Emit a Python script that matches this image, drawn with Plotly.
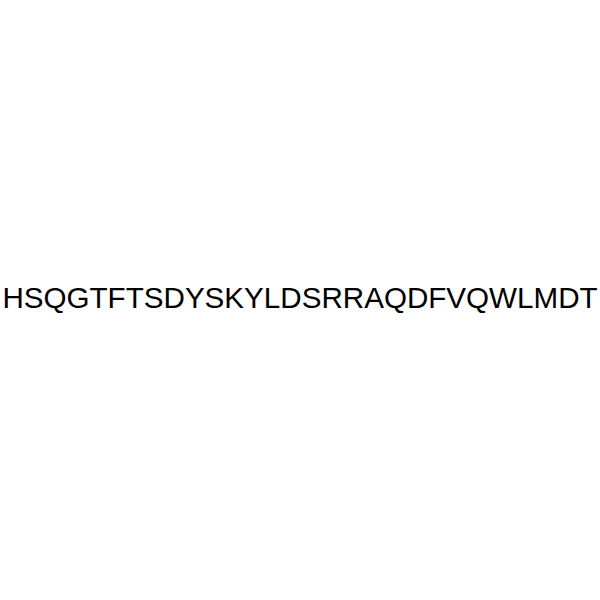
import plotly.graph_objects as go

sequence = "HSQGTFTSDYSKYLDSRRAQDFVQWLMDT"
x_pos = [0.5]
y_pos = [0.4985]

fig = go.Figure()

# just the peptide sequence as text in the middle
fig.add_trace(go.Scatter(
    x=x_pos, y=y_pos,
    mode="text",
    text=[sequence],
    textposition="middle center",
    textfont=dict(family="Liberation Sans, Arial, sans-serif", size=29.6, color="black"),
    cliponaxis=False,
    hoverinfo="skip",
    showlegend=False,
))

fig.update_xaxes(visible=False, range=[0, 1])
fig.update_yaxes(visible=False, range=[0, 1])
fig.update_layout(
    width=600, height=600,
    margin=dict(l=0, r=0, t=0, b=0),
    paper_bgcolor="white",
    plot_bgcolor="white",
)

# drop the default 8px body margin so the figure sits at the window's corner
fig.write_html("out.html", config={"displayModeBar": False},
               post_script="document.body.style.margin='0px';")
